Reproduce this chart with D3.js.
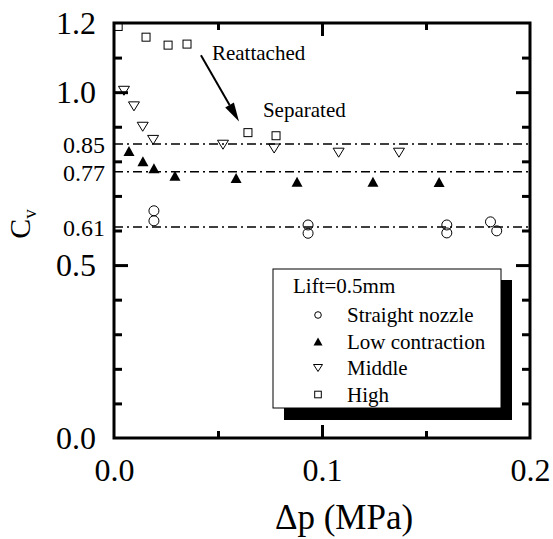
<!DOCTYPE html>
<html>
<head>
<meta charset="utf-8">
<script src="https://cdn.jsdelivr.net/npm/d3@7"></script>
<style>
  html, body { margin: 0; padding: 0; background: #fff; }
</style>
</head>
<body>
<svg id="chart" width="553" height="539"></svg>
<script>
// ---- data ----
const seriesNames = ["Straight nozzle", "Low contraction", "Middle", "High"];
const straightX = [0.0192, 0.0192, 0.0933, 0.0933, 0.160, 0.160, 0.181, 0.184];
const straightY = [0.657, 0.628, 0.616, 0.592, 0.616, 0.593, 0.625, 0.599];
const lowX = [0.0072, 0.0139, 0.0192, 0.0293, 0.0587, 0.088, 0.1245, 0.1563];
const lowY = [0.830, 0.800, 0.780, 0.758, 0.752, 0.741, 0.741, 0.740];
const middleX = [0.0048, 0.0096, 0.0138, 0.0188, 0.0524, 0.077, 0.108, 0.137];
const middleY = [1.004, 0.959, 0.900, 0.862, 0.848, 0.837, 0.825, 0.825];
const highX = [0.002, 0.0154, 0.026, 0.0351, 0.0644, 0.0779];
const highY = [1.190, 1.159, 1.136, 1.139, 0.883, 0.874];
const refLines = [0.85, 0.77, 0.61];
const yBigTicks = [0.0, 0.5, 1.0, 1.2];
const ySmallTicks = [0.61, 0.77, 0.85];
const yMinorTicks = [0.1, 0.2, 0.3, 0.4, 0.6, 0.7, 0.8, 0.9, 1.1];
const yMajorTicks = [0.5, 1.0];
const xLabelTicks = [0.0, 0.1, 0.2];
const xMinorTicks = [0.05, 0.15];
const xMajorTicks = [0.1];
const legendTitle = "Lift=0.5mm";
const xTitle = "\u0394p (MPa)";
const arrowFrom = [0.0418, 1.107];
const arrowTo = [0.0601, 0.915];
const noteReattached = { text: "Reattached", x: 0.0471, y: 1.092 };
const noteSeparated = { text: "Separated", x: 0.0716, y: 0.927 };

// ---- layout ----
const FONT = '"Liberation Serif"';
const L = 114, R = 530, T = 23, B = 438;
const svg = d3.select("#chart").style("font-family", FONT);
const x = d3.scaleLinear().domain([0, 0.2]).range([L, R]);
const y = d3.scaleLinear().domain([0, 1.2]).range([B, T]);

// reference dash-dot lines
svg.append("g").selectAll("line").data(refLines).join("line")
  .attr("x1", x(0)).attr("x2", x(0.2))
  .attr("y1", d => y(d)).attr("y2", d => y(d))
  .attr("stroke", "#000").attr("stroke-width", 1.4)
  .attr("stroke-dasharray", "9,4,2,4");

// ticks via axes (inward)
function tickAxis(axisGen, transform) {
  const g = svg.append("g").attr("transform", transform).call(axisGen);
  g.select(".domain").remove();
  g.selectAll(".tick line").attr("stroke", "#000").attr("stroke-width", 3);
  g.selectAll("text").remove();
  return g;
}
tickAxis(d3.axisLeft(y).tickValues(yMinorTicks).tickSize(-8), `translate(${L},0)`);
tickAxis(d3.axisLeft(y).tickValues(yMajorTicks).tickSize(-14), `translate(${L},0)`);
tickAxis(d3.axisRight(y).tickValues(yMinorTicks).tickSize(-8), `translate(${R},0)`);
tickAxis(d3.axisRight(y).tickValues(yMajorTicks).tickSize(-14), `translate(${R},0)`);
tickAxis(d3.axisBottom(x).tickValues(xMinorTicks).tickSize(-7), `translate(0,${B})`);
tickAxis(d3.axisBottom(x).tickValues(xMajorTicks).tickSize(-13), `translate(0,${B})`);
tickAxis(d3.axisTop(x).tickValues(xMinorTicks).tickSize(-7), `translate(0,${T})`);
tickAxis(d3.axisTop(x).tickValues(xMajorTicks).tickSize(-13), `translate(0,${T})`);

// frame
svg.append("rect").attr("x", L).attr("y", T).attr("width", R - L).attr("height", B - T)
  .attr("fill", "none").attr("stroke", "#000").attr("stroke-width", 3);

// tick labels
function labelAxis(axisGen, transform, size, dy) {
  const g = svg.append("g").attr("transform", transform).call(axisGen);
  g.attr("font-family", null).style("font-family", FONT);
  g.select(".domain").remove();
  g.selectAll(".tick line").remove();
  g.selectAll("text").style("font-family", FONT)
    .attr("font-size", size).attr("fill", "#000").attr("dy", dy);
  return g;
}
labelAxis(d3.axisLeft(y).tickValues(yBigTicks).tickSize(0).tickPadding(18).tickFormat(d3.format(".1f")),
  `translate(${L},0)`, 32, "0.33em");
labelAxis(d3.axisLeft(y).tickValues(ySmallTicks).tickSize(0).tickPadding(9).tickFormat(d3.format(".2f")),
  `translate(${L},0)`, 24, "0.37em");
labelAxis(d3.axisBottom(x).tickValues(xLabelTicks).tickSize(0).tickPadding(20).tickFormat(d3.format(".1f")),
  `translate(0,${B})`, 32, "0.71em");

// axis titles
svg.append("text").attr("x", 344).attr("y", 529).attr("text-anchor", "middle")
  .style("font-family", FONT).attr("font-size", 35).text(xTitle);
const yt = svg.append("text").attr("transform", "translate(30,224) rotate(-90)")
  .attr("text-anchor", "middle").style("font-family", FONT).attr("font-size", 30);
yt.append("tspan").text("C");
yt.append("tspan").attr("font-size", 19).attr("dy", 6).text("v");

// markers
function zipXY(xs, ys) { return xs.map((v, i) => [v, ys[i]]); }
const gM = svg.append("g");
function triPath(cx, cy, w, h, down) {
  if (down) return `M${cx - w / 2},${cy - h / 2}L${cx + w / 2},${cy - h / 2}L${cx},${cy + h / 2}Z`;
  return `M${cx - w / 2},${cy + h / 2}L${cx + w / 2},${cy + h / 2}L${cx},${cy - h / 2}Z`;
}
gM.selectAll("circle.s").data(zipXY(straightX, straightY)).join("circle")
  .attr("cx", d => x(d[0])).attr("cy", d => y(d[1])).attr("r", 5)
  .attr("fill", "none").attr("stroke", "#000").attr("stroke-width", 1);
gM.selectAll("path.low").data(zipXY(lowX, lowY)).join("path").attr("class", "low")
  .attr("d", d => triPath(x(d[0]), y(d[1]), 11, 10, false)).attr("fill", "#000");
gM.selectAll("path.mid").data(zipXY(middleX, middleY)).join("path").attr("class", "mid")
  .attr("d", d => triPath(x(d[0]), y(d[1]), 11, 9, true))
  .attr("fill", "none").attr("stroke", "#000").attr("stroke-width", 1);
gM.selectAll("rect.hi").data(zipXY(highX, highY)).join("rect").attr("class", "hi")
  .attr("x", d => x(d[0]) - 4).attr("y", d => y(d[1]) - 4).attr("width", 8).attr("height", 8)
  .attr("fill", "none").attr("stroke", "#000").attr("stroke-width", 1);

// annotations
const ax1 = x(arrowFrom[0]), ay1 = y(arrowFrom[1]), ax2 = x(arrowTo[0]), ay2 = y(arrowTo[1]);
const ang = Math.atan2(ay2 - ay1, ax2 - ax1);
const hl = 19, hw = 5;
const bx = ax2 - hl * Math.cos(ang), by = ay2 - hl * Math.sin(ang);
svg.append("line").attr("x1", ax1).attr("y1", ay1).attr("x2", bx).attr("y2", by)
  .attr("stroke", "#000").attr("stroke-width", 2);
svg.append("path").attr("d",
  `M${ax2},${ay2}L${bx + hw * Math.sin(ang)},${by - hw * Math.cos(ang)}L${bx - hw * Math.sin(ang)},${by + hw * Math.cos(ang)}Z`)
  .attr("fill", "#000");
[noteReattached, noteSeparated].forEach(n => {
  svg.append("text").attr("x", x(n.x)).attr("y", y(n.y)).style("font-family", FONT)
    .attr("font-size", 21).text(n.text);
});

// legend
const lg = svg.append("g");
lg.append("rect").attr("x", 284).attr("y", 280).attr("width", 228).attr("height", 140).attr("fill", "#000");
lg.append("rect").attr("x", 273).attr("y", 269).attr("width", 228).attr("height", 139)
  .attr("fill", "#fff").attr("stroke", "#000").attr("stroke-width", 1);
lg.append("text").attr("x", 293).attr("y", 293).style("font-family", FONT)
  .attr("font-size", 21).text(legendTitle);
seriesNames.forEach((name, i) => {
  const ry = 315 + i * 26.5;
  const sx = 318;
  if (i === 0) lg.append("circle").attr("cx", sx).attr("cy", ry).attr("r", 3.3)
    .attr("fill", "none").attr("stroke", "#000").attr("stroke-width", 1);
  if (i === 1) lg.append("path").attr("d", triPath(sx, ry, 9, 8, false)).attr("fill", "#000");
  if (i === 2) lg.append("path").attr("d", triPath(sx, ry, 9, 7, true))
    .attr("fill", "none").attr("stroke", "#000").attr("stroke-width", 1);
  if (i === 3) lg.append("rect").attr("x", sx - 3.3).attr("y", ry - 3.3).attr("width", 6.6).attr("height", 6.6)
    .attr("fill", "none").attr("stroke", "#000").attr("stroke-width", 1);
  lg.append("text").attr("x", 347).attr("y", ry + 7).style("font-family", FONT)
    .attr("font-size", 21).text(name);
});
</script>
</body>
</html>
